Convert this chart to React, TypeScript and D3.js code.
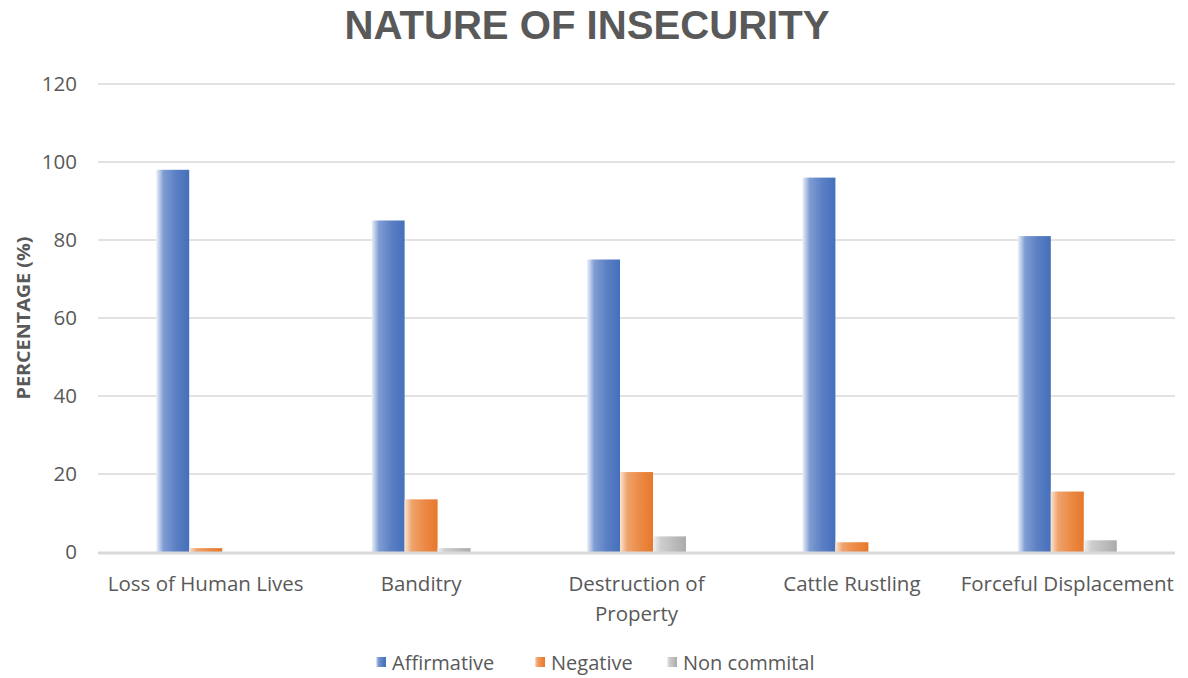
import React from "react";
import * as d3 from "d3";

const categories = ["Loss of Human Lives", "Banditry", "Destruction of Property", "Cattle Rustling", "Forceful Displacement"];
const categoryLines = [["Loss of Human Lives"], ["Banditry"], ["Destruction of", "Property"], ["Cattle Rustling"], ["Forceful Displacement"]];
const seriesNames = ["Affirmative", "Negative", "Non commital"];
const affirmative = [98, 85, 75, 96, 81];
const negative = [1, 13.5, 20.5, 2.5, 15.5];
const nonCommital = [0, 1, 4, 0, 3];
const yTicks = [0, 20, 40, 60, 80, 100, 120];

const gradients = [
  { id: "gBlue", stops: ["#eef2fa", "#7f9dd3", "#5b7fc4", "#4470bb"] },
  { id: "gOrange", stops: ["#fbe3d2", "#eea36c", "#ec8a45", "#e6782c"] },
  { id: "gGray", stops: ["#f2f2f2", "#cfcfcf", "#bdbdbd", "#ababab"] },
];

const W = 1188;
const H = 678;
const M = { left: 98, right: 1175, top: 84, bottom: 552 };
const FONT = "'Open Sans', Lato, sans-serif";
const TITLE_FONT = "'Liberation Sans', Arial, sans-serif";
const TXT = "#595959";

export default function App() {
  const x0 = d3.scaleBand<string>().domain(categories).range([M.left, M.right]).paddingInner(0).paddingOuter(0);
  const x1 = d3.scaleBand<string>().domain(seriesNames).range([0, 99]).padding(0);
  const y = d3.scaleLinear().domain([0, 120]).range([M.bottom, M.top]);
  const data = [affirmative, negative, nonCommital];
  const groupW = 99;

  const legendItems = [
    { name: "Affirmative", x: 376, grad: "gBlue" },
    { name: "Negative", x: 535, grad: "gOrange" },
    { name: "Non commital", x: 667, grad: "gGray" },
  ];

  return (
    <svg width={W} height={H} style={{ position: "absolute", left: 0, top: 0, background: "#fff" }}>
      <defs>
        {gradients.map((g) => (
          <linearGradient key={g.id} id={g.id} x1="0" x2="1" y1="0" y2="0">
            <stop offset="0" stopColor={g.stops[0]} />
            <stop offset="0.22" stopColor={g.stops[1]} />
            <stop offset="0.6" stopColor={g.stops[2]} />
            <stop offset="1" stopColor={g.stops[3]} />
          </linearGradient>
        ))}
      </defs>
      <rect x={0} y={0} width={W} height={H} fill="#fff" />
      <text x={587} y={38.5} textAnchor="middle" fontFamily={TITLE_FONT} fontWeight="bold" fontSize={41} fill={TXT} textLength={485} lengthAdjust="spacingAndGlyphs">
        NATURE OF INSECURITY
      </text>
      {yTicks.map((t) => (
        <g key={t}>
          {t !== 0 && <line x1={M.left} x2={M.right} y1={y(t)} y2={y(t)} stroke="#d9d9d9" strokeWidth={1.3} />}
          <text x={77} y={y(t) + 7} textAnchor="end" fontFamily={FONT} fontSize={20.5} fill={TXT}>
            {t}
          </text>
        </g>
      ))}
      <text
        transform={`translate(30,318) rotate(-90)`}
        textAnchor="middle"
        fontFamily={FONT}
        fontWeight="bold"
        fontSize={18}
        fill={TXT}
        textLength={163}
        lengthAdjust="spacingAndGlyphs"
      >
        PERCENTAGE (%)
      </text>
      {categories.map((c, ci) => {
        const gx = (x0(c) as number) + (x0.bandwidth() - groupW) / 2;
        return (
          <g key={c}>
            {seriesNames.map((s, si) => {
              const v = data[si][ci];
              if (v <= 0) return null;
              return (
                <rect
                  key={s}
                  x={gx + (x1(s) as number)}
                  y={y(v)}
                  width={x1.bandwidth()}
                  height={y(0) - y(v)}
                  fill={`url(#${gradients[si].id})`}
                />
              );
            })}
          </g>
        );
      })}
      <line x1={M.left} x2={M.right} y1={y(0) + 1} y2={y(0) + 1} stroke="#d9d9d9" strokeWidth={3} />
      {categories.map((c, ci) => {
        const cx = (x0(c) as number) + x0.bandwidth() / 2;
        return (
          <text key={c} textAnchor="middle" fontFamily={FONT} fontSize={20.5} fill={TXT}>
            {categoryLines[ci].map((ln, li) => (
              <tspan key={li} x={cx} y={591 + li * 30}>
                {ln}
              </tspan>
            ))}
          </text>
        );
      })}
      {legendItems.map((l) => (
        <g key={l.name}>
          <rect x={l.x} y={657} width={10} height={10} fill={`url(#${l.grad})`} />
          <text x={l.x + 16} y={670} fontFamily={FONT} fontSize={20} fill={TXT}>
            {l.name}
          </text>
        </g>
      ))}
    </svg>
  );
}
